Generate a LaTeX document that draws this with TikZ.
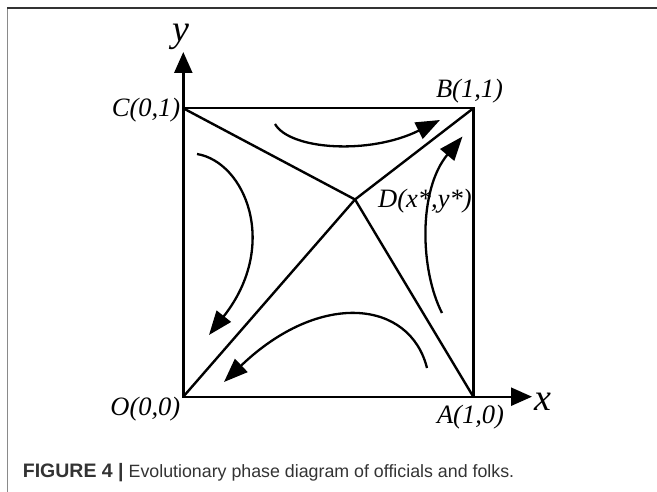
\documentclass[tikz,border=0pt]{standalone}
\usepackage{fontspec}
\setmainfont{Liberation Serif}
\newfontfamily\capfont{Liberation Sans}
\usetikzlibrary{arrows.meta}
\definecolor{capgray}{HTML}{333333}
\definecolor{framegray}{HTML}{8A8A8A}
\tikzset{
  edge/.style={line width=2.4pt, line join=miter},
  flow/.style={line width=2.3pt, -{Triangle[length=24pt,width=18pt]}},
  axis/.style={line width=2.4pt, -{Triangle[length=21pt,width=18pt]}},
  ptlabel/.style={inner sep=0pt, font=\fontsize{26.5}{26.5}\selectfont\itshape},
  axlabel/.style={inner sep=0pt, font=\fontsize{38}{38}\selectfont\itshape},
}
\begin{document}
\begin{tikzpicture}[x=1pt,y=-1pt]
\useasboundingbox (0,0) rectangle (657,492);
% frame
\draw[framegray, line width=1.5pt] (7.7,8) -- (7.7,492);
\draw[capgray, line width=1.3pt] (7,8) -- (657,8);
% points
\coordinate (O) at (183.3,396.7);
\coordinate (A) at (473.3,396.7);
\coordinate (B) at (473.3,108.3);
\coordinate (C) at (183.3,108.3);
\coordinate (D) at (355,199.5);
\coordinate (Xtip) at (532,396.7);
\coordinate (Ytip) at (183.3,52);
% axes
\draw[axis] (O) -- (Xtip);
\draw[axis] (O) -- (Ytip);
% square
\draw[edge] (O) -- (A) -- (B) -- (C) -- cycle;
% separatrices
\draw[edge] (C) -- (D) -- (A);
\draw[edge] (O) -- (D) -- (B);
% flow arrows
\coordinate (t0) at (275,124);
\coordinate (t1) at (440,120);
\draw[flow] (t0) .. controls (290,150) and (370,155) .. (t1);
\coordinate (l0) at (197,154);
\coordinate (l1) at (209,335);
\draw[flow] (l0) .. controls (245,162) and (280,245) .. (l1);
\coordinate (r0) at (442,313);
\coordinate (r1) at (462.5,136.5);
\draw[flow] (r0) .. controls (420,270) and (418,190) .. (r1);
\coordinate (b0) at (427,368);
\coordinate (b1) at (224,382);
\draw[flow] (b0) .. controls (410,300) and (320,290) .. (b1);
% labels
\node[ptlabel, anchor=base east] (Cl) at (180.5,116.5) {C(0,1)};
\node[ptlabel, anchor=base] (Bl) at (469.5,98) {B(1,1)};
\node[ptlabel, anchor=base east] (Ol) at (180.5,415) {O(0,0)};
\node[ptlabel, anchor=base] (Al) at (470.5,423) {A(1,0)};
\node[ptlabel, anchor=base west] (Dl) at (378,208) {D(x*,y*)};
\node[axlabel, anchor=base west] (xl) at (534,410) {x};
\node[axlabel, anchor=base] (yl) at (181,42) {y};
% caption
\node[inner sep=0pt, anchor=base west, text=capgray, font=\capfont\fontsize{17.8}{17.8}\selectfont] (cap) at (22.7,477.3)
  {{\fontsize{19.5}{19.5}\selectfont\textbf{FIGURE 4 |}} Evolutionary phase diagram of officials and folks.};
\end{tikzpicture}
\end{document}
